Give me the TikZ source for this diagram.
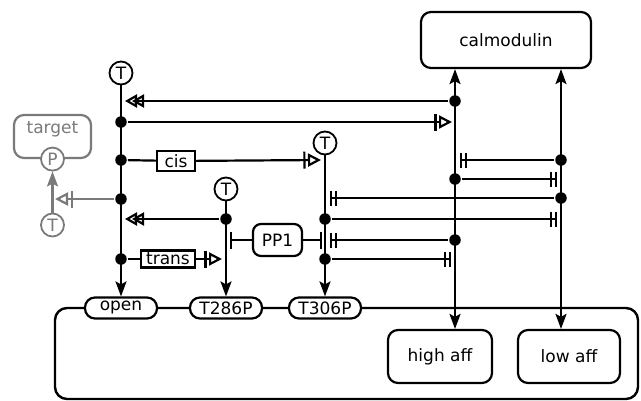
\documentclass[tikz,border=0pt]{standalone}
\usepackage{fontspec}
\setmainfont{DejaVu Sans}
\usetikzlibrary{arrows.meta, positioning, calc}
\definecolor{CGrey}{HTML}{7A7A7A}

\begin{document}
\begin{tikzpicture}[x=1pt, y=-1pt, line width=2.2pt,
    every node/.style={font=\fontsize{17}{19}\selectfont, inner sep=0pt},
    pool/.style={draw, rounded corners=10pt, fill=white},
    unit/.style={draw, rounded corners=10pt, minimum width=72pt, minimum height=21pt, fill=white},
    gate/.style={draw, fill=white, inner xsep=5pt},
    site/.style={draw, circle, minimum size=23pt, line width=1.8pt, fill=white},
    joint/.style={circle, fill, minimum size=11.5pt},
    act/.style={-{Stealth[length=15pt,width=11pt,inset=3pt]}},
    mutual/.style={{Stealth[length=15pt,width=11pt,inset=3pt]}-{Stealth[length=15pt,width=11pt,inset=3pt]}},
    need/.style={-{Bar[width=17pt,sep=2.5pt]Triangle[open,length=13pt,width=13pt]}},
    twice/.style={-{Triangle[open,length=12pt,width=13pt,sep=-5pt]Triangle[open,length=12pt,width=13pt]}},
    blocks/.style={-{Bar[width=17pt]}},
    blockstwo/.style={-{Bar[width=15pt,sep=2.5pt]Bar[width=15pt]}}
]
    \useasboundingbox (0,0) rectangle (641,400);

    % Compartment and its units of information
    \node[pool, line width=2.4pt, rounded corners=12pt, minimum width=583pt, minimum height=91pt] (cell) at (346.5,353.5) {};
    \node[unit] (open) at (121,308) {open};
    \node[unit] (t286p) at (226,308) {T286P};
    \node[unit] (t306p) at (325,308) {T306P};

    % Activities
    \node[pool, minimum width=104pt, minimum height=53pt] (high) at (440,356.5) {high aff};
    \node[pool, minimum width=102pt, minimum height=53pt] (low) at (569,356.5) {low aff};
    \node[pool, minimum width=170pt, minimum height=56pt] (calm) at (506,40) {calmodulin};
    \node[pool, rounded corners=8pt, minimum width=49pt, minimum height=32pt] (pp1) at (277.5,240) {PP1};

    % Sites
    \node[site] (t1) at (121,73) {T};
    \node[site] (t2) at (226,189) {T};
    \node[site] (t3) at (325,143) {T};

    % Logic gates
    \node[gate, minimum width=38pt, minimum height=20pt] (cis) at (176,161) {cis};
    \node[gate, minimum width=52pt, minimum height=17pt] (trans) at (168,259) {trans};

    % Target (grey)
    \node[pool, draw=CGrey, minimum width=77pt, minimum height=43pt] (target) at (52.5,136.5) {};
    \node[CGrey] (tlabel) at (52.5,129) {target};
    \node[site, draw=CGrey, text=CGrey] (p) at (target.south) {P};
    \node[site, draw=CGrey, text=CGrey] (t4) at (52.5,225) {T};

    % Branch points
    \foreach \n/\x/\y in {d1/121/122, d2/121/160, d3/121/199, d4/121/259,
        e1/226/219, f1/325/219, f2/325/259,
        g1/455/101, g2/455/179, g3/455/240, h1/561/160, h2/561/198}
        \node[joint] (\n) at (\x,\y) {};

    % Free ends
    \coordinate (c1) at (125,101);
    \coordinate (c2) at (452,122);
    \coordinate (c3) at (321,160);
    \coordinate (c4) at (55,199);
    \coordinate (c5) at (125,219);
    \coordinate (c6) at (222,259);
    \coordinate (c7) at (230,240);
    \coordinate (c8) at (322,240);
    \coordinate (c9) at (330,240);
    \coordinate (c10) at (557,219);
    \coordinate (c11) at (330,198);
    \coordinate (c12) at (460,160);
    \coordinate (c13) at (557,179);
    \coordinate (c14) at (451,259);

    % Vertical flows
    \draw[act] (t1) -- (open);
    \draw[act] (t2) -- (t286p);
    \draw[act] (t3) -- (t306p);
    \draw[mutual] (calm.south -| g1) -- (high.north -| g1);
    \draw[mutual] (calm.south -| h1) -- (low.north -| h1);

    % Influences
    \draw[twice] (g1) -- (c1);
    \draw[need] (d1) -- (c2);
    \draw[need] (d2) -- (cis) -- (c3);
    \draw[twice] (e1) -- (c5);
    \draw[need] (d4) -- (trans) -- (c6);
    \draw[blocks] (pp1) -- (c7);
    \draw[blocks] (pp1) -- (c8);
    \draw[blockstwo] (g3) -- (c9);
    \draw[blockstwo] (f1) -- (c10);
    \draw[blockstwo] (h2) -- (c11);
    \draw[blockstwo] (h1) -- (c12);
    \draw[blockstwo] (g2) -- (c13);
    \draw[blockstwo] (f2) -- (c14);

    % Grey part
    \draw[act, CGrey] (t4) -- (p);
    \draw[need, CGrey] (d3) -- (c4);
\end{tikzpicture}
\end{document}
